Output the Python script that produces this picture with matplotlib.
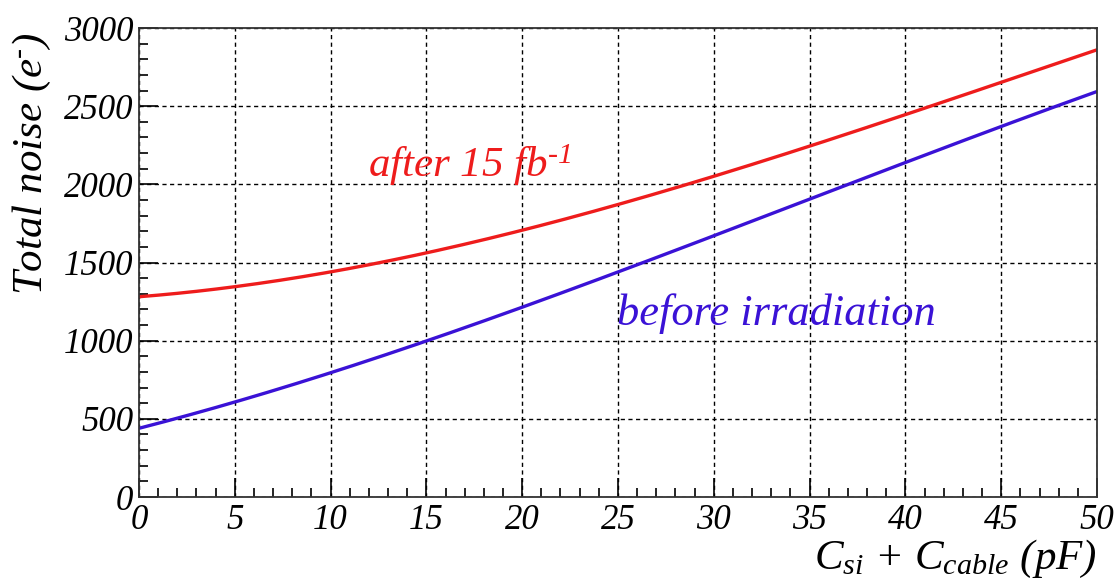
#!/usr/bin/env python

"""Total noise vs input capacitance, before and after irradiation"""

import numpy as np
import matplotlib
matplotlib.use('Agg')
import matplotlib.pyplot as plt
from matplotlib.ticker import MultipleLocator

# capacitance C_si + C_cable (pF)
cap = [0, 5, 10, 15, 20, 25, 30, 35, 40, 45, 50]
# noise (electrons)
noise_after = [1285, 1337, 1440, 1570, 1702, 1875, 2047, 2246, 2444, 2655, 2860]
noise_before = [448, 595, 793, 998, 1216, 1452, 1670, 1900, 2137, 2367, 2598]

red = '#ee1c1c'
blue = '#3a12d6'

plt.rcParams['font.family'] = ['Liberation Serif', 'DejaVu Serif']
plt.rcParams['mathtext.fontset'] = 'custom'
plt.rcParams['mathtext.rm'] = 'Liberation Serif:italic'
plt.rcParams['mathtext.it'] = 'Liberation Serif:italic'

fig = plt.figure(figsize=(11.18, 5.85), dpi=100)
ax = fig.add_axes([0.1243, 0.1504, 0.8569, 0.8017])

# smooth the read-off points a little with a cubic through them
xs = np.linspace(0, 50, 300)
for vals, col in [(noise_after, red), (noise_before, blue)]:
    coef = np.polyfit(cap, vals, 3)
    ax.plot(xs, np.polyval(coef, xs), color=col, lw=2.4, solid_capstyle='butt')

ax.set_xlim(0, 50)
ax.set_ylim(0, 3000)
ax.xaxis.set_major_locator(MultipleLocator(5))
ax.xaxis.set_minor_locator(MultipleLocator(1))
ax.yaxis.set_major_locator(MultipleLocator(500))
ax.yaxis.set_minor_locator(MultipleLocator(100))
ax.tick_params(which='both', direction='in', top=False, right=False, color='black')
ax.tick_params(which='major', length=14, width=1.2)
ax.tick_params(which='minor', length=6.5, width=1.2)
ax.tick_params(axis='x', pad=5)
ax.tick_params(axis='y', pad=4)
for lab in ax.get_xticklabels() + ax.get_yticklabels():
    lab.set_fontsize(25)
    lab.set_fontstyle('italic')
for s in ax.spines.values():
    s.set_linewidth(1.3)
    s.set_color('#333333')

ax.grid(True, which='major', color='black', linestyle=(0, (3, 2.5)), linewidth=1.0)
ax.set_axisbelow(True)

ax.set_ylabel('Total noise (e$^{\u2010}$)', fontsize=31, fontstyle='italic')
ax.yaxis.set_label_coords(-0.09, 0.71)
ax.set_xlabel('$C_{si}$ + $C_{cable}$ $(pF)$', fontsize=31, fontstyle='italic', ha='right')
ax.xaxis.set_label_coords(1.0, -0.088)

ax.text(11.95, 2050, 'after 15 fb$^{\u20101}$', color=red, fontsize=31, fontstyle='italic')
ax.text(24.95, 1100, 'before irradiation', color=blue, fontsize=32, fontstyle='italic')

fig.savefig('out.png', dpi=100)
